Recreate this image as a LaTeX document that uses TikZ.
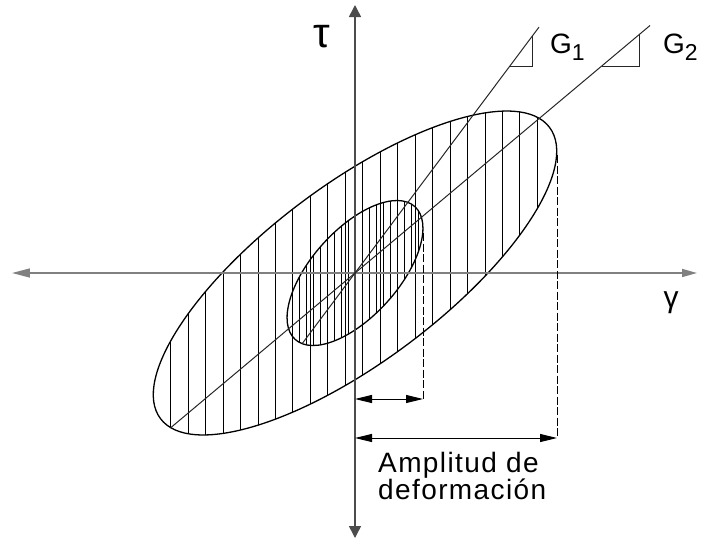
\documentclass[tikz,border=0pt]{standalone}
\usepackage{fontspec}
\setmainfont{Liberation Sans}
\newfontfamily\spacedfont{Liberation Sans}[LetterSpace=5]
\usetikzlibrary{arrows.meta}
\begin{document}
\begin{tikzpicture}[x=1pt,y=1pt,
  axisH/.style={draw=black!50, line width=1.5pt},
  axisV/.style={draw=black!70, line width=1.5pt},
  curve/.style={draw=black, line width=1.3pt},
  hatch/.style={draw=black, line width=0.9pt},
  slope/.style={draw=black!85, line width=1pt},
  dimline/.style={draw=black, line width=1pt, {Triangle[length=17pt,width=8pt]}-{Triangle[length=17pt,width=8pt]}},
  dashv/.style={draw=black, line width=1pt, dash pattern=on 8pt off 2.5pt},
  lbl/.style={inner sep=0pt}
]
\useasboundingbox (-355,-266) rectangle (353,273);
% coordinates
\coordinate (O) at (0,0);
\coordinate (xl) at (-343,0);
\coordinate (xr) at (342,0);
\coordinate (yt) at (0,268);
\coordinate (yb) at (0,-265);
% hatching large ellipse
\begin{scope}
  \clip[rotate=36.8] (0,0) ellipse [x radius=243pt, y radius=88.6pt];
  \foreach \k in {0,...,21} {
    \draw[hatch] (-184.3+17.46*\k,-200) -- (-184.3+17.46*\k,200);
  }
\end{scope}
% hatching small ellipse
\begin{scope}
  \clip[rotate=48] (0,0) ellipse [x radius=89.4pt, y radius=43.3pt];
  \foreach \k in {-10,...,10} {
    \draw[hatch] (7*\k,-100) -- (7*\k,100);
  }
\end{scope}
% ellipses
\draw[curve, rotate=36.8] (O) ellipse [x radius=243pt, y radius=88.6pt];
\draw[curve, rotate=48] (O) ellipse [x radius=89.4pt, y radius=43.3pt];
% axes
\draw[axisH, -{Triangle[length=15pt,width=8pt]}] (O) -- (xr);
\draw[axisH, -{Triangle[length=18pt,width=9pt]}] (O) -- (xl);
\draw[axisV, -{Triangle[length=12pt,width=12pt]}] (O) -- (yt);
\draw[axisV, -{Triangle[length=12pt,width=12pt]}] (O) -- (yb);
% slope lines
\coordinate (g1a) at (-52.8,-70.6);
\coordinate (g1b) at (184,245.9);
\coordinate (g2a) at (-184.3,-154.7);
\coordinate (g2b) at (295,247.5);
\draw[slope] (g1a) -- (g1b);
\draw[slope] (g2a) -- (g2b);
% slope triangles
\coordinate (t1a) at (154.9,207);
\coordinate (t1b) at (177,207);
\coordinate (t1c) at (177,236.6);
\draw[slope] (t1a) -- (t1b) -- (t1c);
\coordinate (t2a) at (246.7,207);
\coordinate (t2b) at (284,207);
\coordinate (t2c) at (284,238.3);
\draw[slope] (t2a) -- (t2b) -- (t2c);
% dashed verticals
\coordinate (d1a) at (68,40);
\coordinate (d1b) at (68,-126);
\coordinate (d2a) at (202,118);
\coordinate (d2b) at (202,-165);
\draw[dashv] (d1a) -- (d1b);
\draw[dashv] (d2a) -- (d2b);
% dimension arrows
\coordinate (m1a) at (0,-126);
\coordinate (m2a) at (0,-165);
\draw[dimline] (m1a) -- (d1b);
\draw[dimline] (m2a) -- (d2b);
% labels
\node[lbl, anchor=center, font=\fontsize{42}{42}\selectfont] (tau) at (-33,236) {τ};
\node[lbl, anchor=center, font=\fontsize{30}{30}\selectfont] (gam) at (316,-30) {γ};
\node[lbl, anchor=base west, font=\spacedfont\fontsize{28}{28}\selectfont] (G1) at (195,220) {G\raisebox{-7pt}{\fontsize{23}{23}\selectfont 1}};
\node[lbl, anchor=base west, font=\spacedfont\fontsize{28}{28}\selectfont] (G2) at (308,220) {G\raisebox{-7pt}{\fontsize{23}{23}\selectfont 2}};
\node[lbl, anchor=north west, align=left, font=\spacedfont\fontsize{28}{26}\selectfont] (amp) at (23,-179) {Amplitud de\\deformación};
\end{tikzpicture}
\end{document}
